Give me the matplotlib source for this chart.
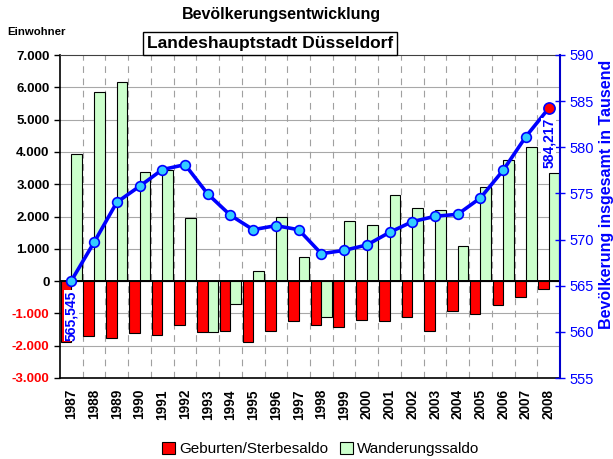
import numpy as np
import matplotlib
matplotlib.use("Agg")
import matplotlib.pyplot as plt
from matplotlib.patches import Patch

plt.rcParams['font.family'] = ['Liberation Sans', 'DejaVu Sans']

years = [str(y) for y in range(1987, 2009)]
geburten_saldo = [-1880, -1710, -1760, -1600, -1660, -1350, -1590, -1550, -1880, -1530, -1250,
                  -1360, -1430, -1190, -1250, -1120, -1540, -920, -1030, -750, -490, -240]
wanderung_saldo = [3950, 5840, 6170, 3380, 3450, 1940, -1570, -720, 300, 2000, 750,
                   -1120, 1870, 1730, 2670, 2270, 2190, 1090, 2900, 3740, 4140, 3350]
bevoelkerung = [565.545, 569.70, 574.04, 575.77, 577.58, 578.12, 574.94, 572.63, 571.07, 571.51, 571.07,
                568.47, 568.83, 569.41, 570.78, 571.94, 572.52, 572.74, 574.51, 577.51, 581.16, 584.217]
left_ticks = list(range(-3000, 7001, 1000))
right_ticks = list(range(555, 591, 5))

fig = plt.figure(figsize=(6.13, 4.59), dpi=100)
ax = fig.add_axes([60/613, 1-378/459, 500/613, 323/459])

x = np.arange(len(years))
w = 0.47
ax.bar(x - w/2, geburten_saldo, width=w, color='#ff0000', edgecolor='black', linewidth=0.8, zorder=2)
ax.bar(x + w/2, wanderung_saldo, width=w, color='#ccffcc', edgecolor='black', linewidth=0.8, zorder=2)
ax.axhline(0, color='black', lw=1.4, zorder=3)

ax.set_xlim(-0.5, len(years) - 0.5)
ax.set_ylim(-3000, 7000)
for t in left_ticks[:-1]:
    ax.axhline(t, color='#a8a8a8', lw=0.8, zorder=0)
for b in np.arange(0.5, len(years) - 0.5, 1.0):
    ax.axvline(b, color='#a0a0a0', lw=0.8, linestyle=(0, (6, 5)), zorder=0)

ax.set_yticks(left_ticks)
ax.set_yticklabels([f"{t:,}".replace(',', '.') for t in left_ticks], fontsize=9.5, fontweight='bold')
for lab, t in zip(ax.get_yticklabels(), left_ticks):
    lab.set_color('#ff0000' if t < 0 else 'black')
ax.tick_params(axis='y', direction='out', length=4, width=1)
ax.set_xticks(x)
ax.set_xticklabels(years, rotation=90, fontsize=9.8, fontweight='bold')
ax.tick_params(axis='x', length=0, pad=8)
ax.spines['top'].set_color('#404040')
ax.spines['right'].set_visible(False)
ax.spines['left'].set_linewidth(1.2)
ax.spines['bottom'].set_linewidth(1.2)

ax2 = ax.twinx()
ax2.set_ylim(555, 590)
ax2.plot(x, bevoelkerung, color='#0000ff', lw=2.6, marker='o', markersize=7,
         markerfacecolor='#33ccff', markeredgecolor='#0000ff', markeredgewidth=1.2, zorder=5)
ax2.plot(x[-1], bevoelkerung[-1], marker='o', markersize=8, markerfacecolor='#ff0000',
         markeredgecolor='#0000ff', markeredgewidth=1.2, zorder=6)
for i in (0, len(years) - 1):
    ax2.annotate(f"{bevoelkerung[i]:.3f}".replace('.', ','), (x[i], bevoelkerung[i]),
                 xytext=(0, -7), textcoords='offset points', rotation=90,
                 ha='center', va='top', color='#0000ff', fontsize=10, fontweight='bold',
                 bbox=dict(facecolor='white', edgecolor='none', pad=0.3), zorder=7)
ax2.set_yticks(right_ticks)
ax2.set_yticklabels([str(t) for t in right_ticks], fontsize=10.5, color='#0000ff')
ax2.tick_params(axis='y', direction='inout', length=7, width=1, colors='#0000ff', labelcolor='#0000ff')
for s in ('left', 'top', 'bottom'):
    ax2.spines[s].set_visible(False)
ax2.spines['right'].set_color('#0000cc')
ax2.spines['right'].set_linewidth(1.5)

fig.text(281/613, 1-15/459, 'Bevölkerungsentwicklung', ha='center', va='center',
         fontsize=11.5, fontweight='bold')
fig.text(270/613, 1-43.5/459, 'Landeshauptstadt Düsseldorf', ha='center', va='center',
         fontsize=12.5, fontweight='bold',
         bbox=dict(facecolor='white', edgecolor='black', boxstyle='square,pad=0.25', linewidth=1))
fig.text(7/613, 1-32/459, 'Einwohner', ha='left', va='center', fontsize=8.2, fontweight='bold')
fig.text(607/613, 1-194/459, 'Bevölkerung insgesamt in Tausend', ha='center', va='center',
         rotation=90, fontsize=11.5, fontweight='bold', color='#0000ff')

handles = [Patch(facecolor='#ff0000', edgecolor='black', linewidth=0.8),
           Patch(facecolor='#ccffcc', edgecolor='black', linewidth=0.8)]
fig.legend(handles, ['Geburten/Sterbesaldo', 'Wanderungssaldo'], loc='center',
           bbox_to_anchor=(321/613, 1-449/459), ncol=2, frameon=False, fontsize=11,
           handlelength=0.8, handleheight=0.8, columnspacing=0.8, handletextpad=0.3)

fig.savefig('out.png', dpi=100)
